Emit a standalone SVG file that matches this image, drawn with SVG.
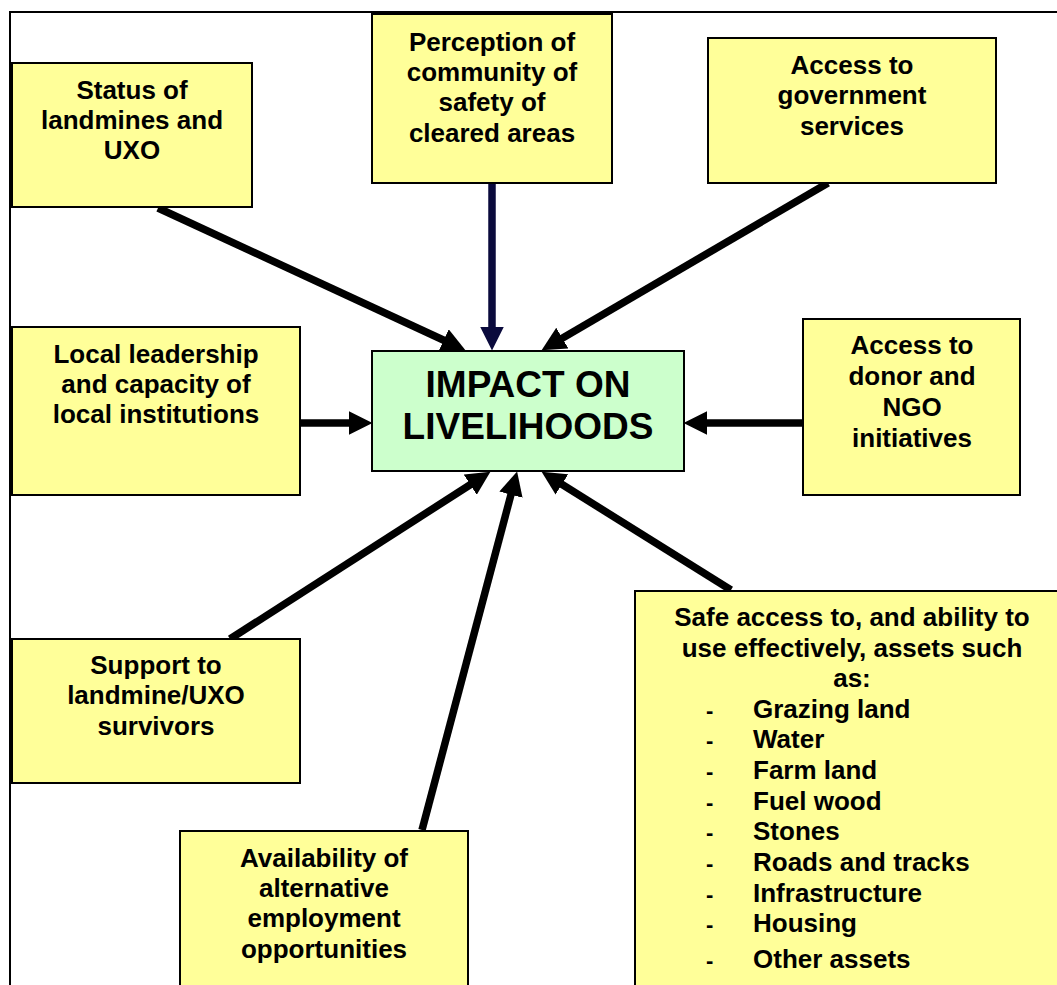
<svg xmlns="http://www.w3.org/2000/svg" width="1057" height="985" viewBox="0 0 1057 985">
<style>
.box{fill:#FFFF99;stroke:#000;stroke-width:2}
.main{fill:#CCFFCC;stroke:#000;stroke-width:2}
text{font-family:"Liberation Sans",Arial,sans-serif;font-weight:bold;fill:#000}
.t{font-size:26px;text-anchor:middle}
.l{font-size:26px}
.d{font-size:22px;font-weight:normal}
.big{font-size:37px;text-anchor:middle}
.arr{stroke:#000;stroke-width:7.5;fill:none;marker-end:url(#ah)}
.arrn{stroke:#0a0a3c;stroke-width:7.5;fill:none;marker-end:url(#ahn)}
</style>
<defs>
<marker id="ah" markerUnits="userSpaceOnUse" markerWidth="24" markerHeight="24" refX="11" refY="11.5" orient="auto" viewBox="0 0 23 23"><path d="M0,0 L23,11.5 L0,23 z" fill="#000"/></marker>
<marker id="ahn" markerUnits="userSpaceOnUse" markerWidth="24" markerHeight="24" refX="11" refY="11.5" orient="auto" viewBox="0 0 23 23"><path d="M0,0 L23,11.5 L0,23 z" fill="#0a0a3c"/></marker>
</defs>
<rect width="1057" height="985" fill="#fff"/>
<path d="M10,985 V12 H1057" fill="none" stroke="#000" stroke-width="2"/>

<g id="connectors">
<line class="arr" x1="158" y1="208" x2="454.1" y2="345"/>
<line class="arrn" x1="492" y1="183" x2="492" y2="338"/>
<line class="arr" x1="828" y1="183" x2="552.4" y2="343.9"/>
<line class="arr" x1="300" y1="423" x2="360" y2="423"/>
<line class="arr" x1="803" y1="423" x2="696" y2="423"/>
<line class="arr" x1="230" y1="639" x2="479.9" y2="478.5"/>
<line class="arr" x1="422" y1="830" x2="513.9" y2="483.6"/>
<line class="arr" x1="731" y1="590" x2="552.2" y2="478.3"/>
</g>

<g id="status">
<rect class="box" x="12" y="63" width="240" height="144"/>
<text class="t" x="132" y="99">Status of</text>
<text class="t" x="132" y="129">landmines and</text>
<text class="t" x="132" y="159">UXO</text>
</g>

<g id="perception">
<rect class="box" x="372" y="14" width="240" height="169"/>
<text class="t" x="492" y="51">Perception of</text>
<text class="t" x="492" y="81">community of</text>
<text class="t" x="492" y="111">safety of</text>
<text class="t" x="492" y="142">cleared areas</text>
</g>

<g id="government">
<rect class="box" x="708" y="38" width="288" height="145"/>
<text class="t" x="852" y="74">Access to</text>
<text class="t" x="852" y="104">government</text>
<text class="t" x="852" y="135">services</text>
</g>

<g id="leadership">
<rect class="box" x="12" y="327" width="288" height="168"/>
<text class="t" x="156" y="363">Local leadership</text>
<text class="t" x="156" y="393">and capacity of</text>
<text class="t" x="156" y="423">local institutions</text>
</g>

<g id="impact">
<rect class="main" x="372" y="351" width="312" height="120"/>
<text class="big" x="528" y="397">IMPACT ON</text>
<text class="big" x="528" y="439">LIVELIHOODS</text>
</g>

<g id="donor">
<rect class="box" x="803" y="319" width="217" height="176"/>
<text class="t" x="912" y="354">Access to</text>
<text class="t" x="912" y="385">donor and</text>
<text class="t" x="912" y="416">NGO</text>
<text class="t" x="912" y="447">initiatives</text>
</g>

<g id="support">
<rect class="box" x="12" y="639" width="288" height="144"/>
<text class="t" x="156" y="674">Support to</text>
<text class="t" x="156" y="704">landmine/UXO</text>
<text class="t" x="156" y="735">survivors</text>
</g>

<g id="employment">
<rect class="box" x="180" y="831" width="288" height="165"/>
<text class="t" x="324" y="867">Availability of</text>
<text class="t" x="324" y="897">alternative</text>
<text class="t" x="324" y="927">employment</text>
<text class="t" x="324" y="958">opportunities</text>
</g>

<g id="assets">
<rect class="box" x="635" y="591" width="440" height="410"/>
<text class="t" x="852" y="626">Safe access to, and ability to</text>
<text class="t" x="852" y="657">use effectively, assets such</text>
<text class="t" x="852" y="687">as:</text>
<g class="d">
<text x="706" y="718">-</text>
<text x="706" y="748">-</text>
<text x="706" y="779">-</text>
<text x="706" y="810">-</text>
<text x="706" y="840">-</text>
<text x="706" y="871">-</text>
<text x="706" y="902">-</text>
<text x="706" y="932">-</text>
<text x="706" y="968">-</text>
</g>
<g class="l">
<text x="753" y="718">Grazing land</text>
<text x="753" y="748">Water</text>
<text x="753" y="779">Farm land</text>
<text x="753" y="810">Fuel wood</text>
<text x="753" y="840">Stones</text>
<text x="753" y="871">Roads and tracks</text>
<text x="753" y="902">Infrastructure</text>
<text x="753" y="932">Housing</text>
<text x="753" y="968">Other assets</text>
</g>
</g>
</svg>
